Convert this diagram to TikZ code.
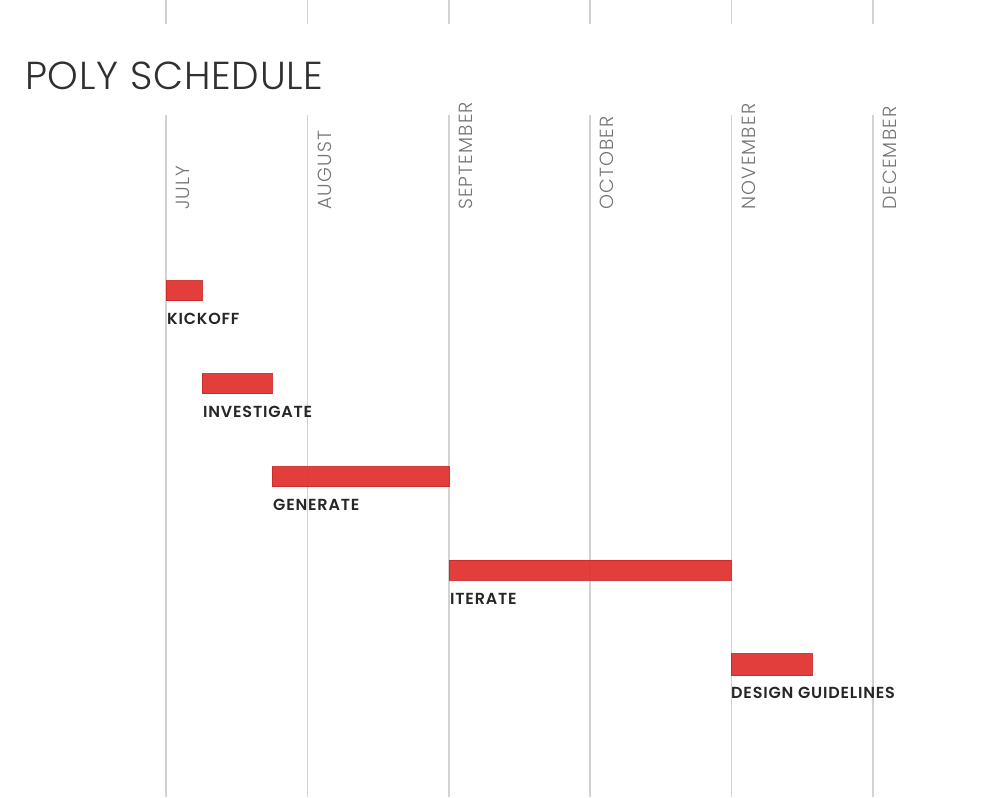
\documentclass[tikz,border=0pt]{standalone}
\usepackage{fontspec}
\setmainfont{Poppins}
\newfontfamily\lightfont{Poppins Light}
\newfontfamily\titlefont[LetterSpace=2]{Poppins Light}
\newfontfamily\monthfont[LetterSpace=6]{Poppins Light}
\newfontfamily\semifont[LetterSpace=5]{Poppins SemiBold}
\definecolor{barred}{HTML}{E0302D}
\definecolor{gridgray}{HTML}{D2D2D2}
\definecolor{monthgray}{HTML}{747474}
\definecolor{inkdark}{HTML}{262626}
\definecolor{titleink}{HTML}{303030}
\begin{document}
\begin{tikzpicture}[x=1pt,y=-1pt,
  gridline/.style={draw=gridgray, line width=1.3pt},
  bar/.style={draw=barred!90!black, line width=0.6pt, fill=barred, fill opacity=0.93,
    draw opacity=0.9, inner sep=0pt, outer sep=0pt, anchor=north west, minimum height=20pt},
  task/.style={font=\semifont\fontsize{16}{16}\selectfont, text=inkdark, anchor=base west,
    inner sep=0pt},
  month/.style={font=\monthfont\fontsize{19}{19}\selectfont, text=monthgray, rotate=90,
    anchor=base west, inner sep=0pt}]
\useasboundingbox (0,0) rectangle (1000,797);
\fill[white] (0,0) rectangle (1000,797);

% month grid lines, broken around the title
\foreach \mx in {166,307.5,449,590,731.5,873} {
  \draw[gridline] (\mx,0) -- (\mx,24);
  \draw[gridline] (\mx,115) -- (\mx,797);
}

% title
\node[font=\titlefont\fontsize{39}{39}\selectfont, text=titleink, anchor=base west, inner sep=0pt]
  (title) at (25,90) {POLY SCHEDULE};

% month labels
\node[month] (jul) at (189.5,210) {JULY};
\node[month] (aug) at (331,210) {AUGUST};
\node[month] (sep) at (472.5,210) {SEPTEMBER};
\node[month] (oct) at (613.5,210) {OCTOBER};
\node[month] (nov) at (755,210) {NOVEMBER};
\node[month] (dec) at (896.5,210) {DECEMBER};

% task bars
\node[bar, minimum width=36pt] (kick) at (166,280.5) {};
\node[bar, minimum width=70pt] (inv) at (202,373.5) {};
\node[bar, minimum width=177pt] (gen) at (272,466.5) {};
\node[bar, minimum width=282pt] (itr) at (449,560) {};
\node[bar, minimum width=81pt, minimum height=22pt] (dsg) at (731,653.5) {};

% task labels
\node[task] (kickl) at ([xshift=1pt,yshift=-24pt]kick.south west) {KICKOFF};
\node[task] (invl) at ([xshift=1pt,yshift=-24pt]inv.south west) {INVESTIGATE};
\node[task] (genl) at ([xshift=1pt,yshift=-24pt]gen.south west) {GENERATE};
\node[task] (itrl) at ([xshift=1pt,yshift=-24pt]itr.south west) {ITERATE};
\node[task] (dsgl) at ([xshift=0pt,yshift=-23pt]dsg.south west) {DESIGN GUIDELINES};
\end{tikzpicture}
\end{document}
